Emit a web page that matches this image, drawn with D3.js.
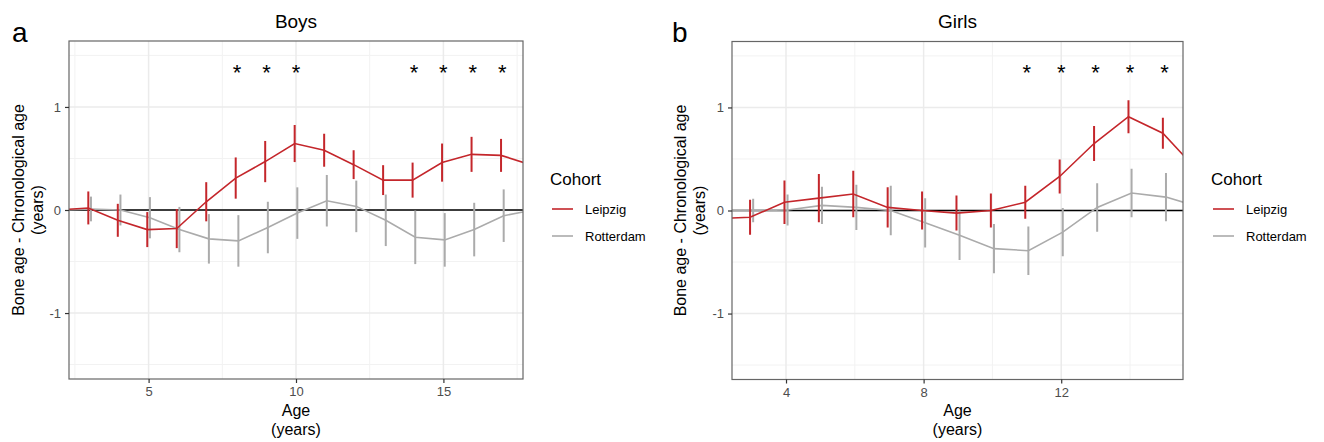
<!DOCTYPE html>
<html lang="en">
<head>
<meta charset="UTF-8">
<title>Bone age - Chronological age</title>
<script src="https://d3js.org/d3.v7.min.js"></script>
<style>
  body { margin: 0; background: #fff; font-family: "Liberation Sans", Arial, sans-serif; }
  text { font-family: "Liberation Sans", Arial, sans-serif; }
</style>
</head>
<body>
<svg id="chart" width="1324" height="442"></svg>
<script>
// ages (years) - first and last points lie just outside the visible range
const boysAges = [2, 3, 4, 5, 6, 7, 8, 9, 10, 11, 12, 13, 14, 15, 16, 17, 18];
const boysLeipzig     = [0.00, 0.02, -0.10, -0.19, -0.18, 0.08, 0.31, 0.47, 0.645, 0.58, 0.44, 0.29, 0.29, 0.46, 0.54, 0.53, 0.44];
const boysLeipzigCI   = [0.16, 0.16, 0.16, 0.17, 0.19, 0.19, 0.20, 0.20, 0.18, 0.16, 0.14, 0.145, 0.17, 0.185, 0.17, 0.16, 0.16];
const boysRotterdam   = [0.00, 0.01, 0.00, -0.075, -0.19, -0.28, -0.30, -0.17, -0.03, 0.09, 0.035, -0.10, -0.265, -0.29, -0.19, -0.055, 0.00];
const boysRotterdamCI = [0.12, 0.12, 0.15, 0.20, 0.22, 0.24, 0.25, 0.25, 0.25, 0.25, 0.25, 0.25, 0.26, 0.26, 0.26, 0.255, 0.25];
const boysStars = [8, 9, 10, 14, 15, 16, 17];

const girlsAges = [2, 3, 4, 5, 6, 7, 8, 9, 10, 11, 12, 13, 14, 15, 16];
const girlsLeipzig     = [-0.08, -0.065, 0.08, 0.12, 0.16, 0.03, 0.00, -0.025, 0.00, 0.08, 0.33, 0.65, 0.91, 0.75, 0.39];
const girlsLeipzigCI   = [0.17, 0.17, 0.21, 0.235, 0.225, 0.195, 0.185, 0.17, 0.165, 0.16, 0.165, 0.17, 0.16, 0.15, 0.15];
const girlsRotterdam   = [0.00, 0.00, 0.005, 0.05, 0.03, 0.00, -0.12, -0.24, -0.37, -0.39, -0.21, 0.03, 0.17, 0.13, 0.03];
const girlsRotterdamCI = [0.115, 0.115, 0.15, 0.18, 0.22, 0.24, 0.24, 0.24, 0.24, 0.235, 0.235, 0.235, 0.235, 0.235, 0.235];
const girlsStars = [11, 12, 13, 14, 15];

const cohorts = ["Leipzig", "Rotterdam"];
const colors = { Leipzig: "#c4262b", Rotterdam: "#ababab" };
const dodge = { Leipzig: -0.045, Rotterdam: 0.045 };

const yTicks = [-1, 0, 1];
const yMinor = [-1.5, -0.5, 0.5, 1.5];

const svg = d3.select("#chart");

function drawPanel(p) {
  const x = d3.scaleLinear().domain(p.xDomain).range([p.left, p.right]);
  const y = d3.scaleLinear().domain([-1.64, 1.64]).range([p.bottom, p.top]);
  const g = svg.append("g");

  g.append("clipPath").attr("id", p.id + "clip")
    .append("rect").attr("x", p.left).attr("y", p.top)
    .attr("width", p.right - p.left).attr("height", p.bottom - p.top);

  g.append("rect").attr("x", p.left).attr("y", p.top)
    .attr("width", p.right - p.left).attr("height", p.bottom - p.top).attr("fill", "#fff");

  // grid
  const grid = g.append("g").attr("clip-path", `url(#${p.id}clip)`);
  grid.selectAll(".vmin").data(p.xMinor).enter().append("line")
    .attr("x1", d => x(d)).attr("x2", d => x(d)).attr("y1", p.top).attr("y2", p.bottom)
    .attr("stroke", "#f2f2f2").attr("stroke-width", 1);
  grid.selectAll(".hmin").data(yMinor).enter().append("line")
    .attr("y1", d => y(d)).attr("y2", d => y(d)).attr("x1", p.left).attr("x2", p.right)
    .attr("stroke", "#f2f2f2").attr("stroke-width", 1);
  grid.selectAll(".vmaj").data(p.xTicks).enter().append("line")
    .attr("x1", d => x(d)).attr("x2", d => x(d)).attr("y1", p.top).attr("y2", p.bottom)
    .attr("stroke", "#ebebeb").attr("stroke-width", 1.5);
  grid.selectAll(".hmaj").data(yTicks).enter().append("line")
    .attr("y1", d => y(d)).attr("y2", d => y(d)).attr("x1", p.left).attr("x2", p.right)
    .attr("stroke", "#ebebeb").attr("stroke-width", 1.5);

  // zero line
  grid.append("line").attr("x1", p.left).attr("x2", p.right)
    .attr("y1", y(0)).attr("y2", y(0)).attr("stroke", "#000").attr("stroke-width", 1.6);

  // series
  const plot = g.append("g").attr("clip-path", `url(#${p.id}clip)`);
  ["Rotterdam", "Leipzig"].forEach(c => {
    const rows = p.ages.map((a, i) => ({ age: a + dodge[c], v: p.values[c][i], ci: p.ci[c][i] }));
    plot.append("path").datum(rows)
      .attr("fill", "none").attr("stroke", colors[c]).attr("stroke-width", 1.6)
      .attr("d", d3.line().x(d => x(d.age)).y(d => y(d.v)));
    plot.selectAll(null).data(rows).enter().append("line")
      .attr("x1", d => x(d.age)).attr("x2", d => x(d.age))
      .attr("y1", d => y(d.v - d.ci)).attr("y2", d => y(d.v + d.ci))
      .attr("stroke", colors[c]).attr("stroke-width", 2);
  });

  // significance stars
  g.selectAll(null).data(p.stars).enter().append("text")
    .attr("x", d => x(d)).attr("y", y(1.35) + 9)
    .attr("text-anchor", "middle").attr("font-size", 22).attr("fill", "#000")
    .text("*");

  // border
  g.append("rect").attr("x", p.left).attr("y", p.top)
    .attr("width", p.right - p.left).attr("height", p.bottom - p.top)
    .attr("fill", "none").attr("stroke", "#666").attr("stroke-width", 1.2);

  // axes
  const xAxis = g.append("g").attr("transform", `translate(0,${p.bottom})`)
    .call(d3.axisBottom(x).tickValues(p.xTicks).tickSize(4).tickPadding(4));
  const yAxis = g.append("g").attr("transform", `translate(${p.left},0)`)
    .call(d3.axisLeft(y).tickValues(yTicks).tickSize(4).tickPadding(4).tickFormat(d => String(d)));
  [xAxis, yAxis].forEach(a => {
    a.select(".domain").remove();
    a.selectAll(".tick line").attr("stroke", "#333").attr("stroke-width", 1.2);
    a.selectAll(".tick text").attr("fill", "#4d4d4d").attr("font-size", 13)
      .style("font-family", "'Liberation Sans', Arial, sans-serif");
  });

  const cx = (p.left + p.right) / 2;
  g.append("text").attr("x", cx).attr("y", 28).attr("text-anchor", "middle")
    .attr("font-size", 19).text(p.title);
  g.append("text").attr("x", cx).attr("y", 416).attr("text-anchor", "middle")
    .attr("font-size", 16).text("Age");
  g.append("text").attr("x", cx).attr("y", 435).attr("text-anchor", "middle")
    .attr("font-size", 16).text("(years)");

  const cy = (p.top + p.bottom) / 2;
  g.append("text").attr("transform", `translate(${p.yTitleX},${cy}) rotate(-90)`)
    .attr("text-anchor", "middle").attr("font-size", 16).text("Bone age - Chronological age");
  g.append("text").attr("transform", `translate(${p.yTitleX + 19},${cy}) rotate(-90)`)
    .attr("text-anchor", "middle").attr("font-size", 16).text("(years)");

  g.append("text").attr("x", p.labelX).attr("y", 42).attr("font-size", 28).text(p.label);

  // legend
  const lg = g.append("g").attr("transform", `translate(${p.legendX},0)`);
  lg.append("text").attr("x", 0).attr("y", 185).attr("font-size", 17).text("Cohort");
  cohorts.forEach((c, i) => {
    const ly = 209 + i * 27;
    lg.append("line").attr("x1", 2).attr("x2", 23).attr("y1", ly).attr("y2", ly)
      .attr("stroke", colors[c]).attr("stroke-width", 1.6);
    lg.append("text").attr("x", 35).attr("y", ly + 5).attr("font-size", 13).text(c);
  });
}

drawPanel({
  id: "a", label: "a", title: "Boys", labelX: 12,
  left: 69, right: 523, top: 41, bottom: 379,
  xDomain: [2.3, 17.7], xTicks: [5, 10, 15], xMinor: [2.5, 7.5, 12.5, 17.5],
  ages: boysAges,
  values: { Leipzig: boysLeipzig, Rotterdam: boysRotterdam },
  ci: { Leipzig: boysLeipzigCI, Rotterdam: boysRotterdamCI },
  stars: boysStars, yTitleX: 24, legendX: 550
});

drawPanel({
  id: "b", label: "b", title: "Girls", labelX: 672,
  left: 732, right: 1183, top: 41.5, bottom: 379.5,
  xDomain: [2.43, 15.54], xTicks: [4, 8, 12], xMinor: [6, 10, 14],
  ages: girlsAges,
  values: { Leipzig: girlsLeipzig, Rotterdam: girlsRotterdam },
  ci: { Leipzig: girlsLeipzigCI, Rotterdam: girlsRotterdamCI },
  stars: girlsStars, yTitleX: 686, legendX: 1211
});
</script>
</body>
</html>
